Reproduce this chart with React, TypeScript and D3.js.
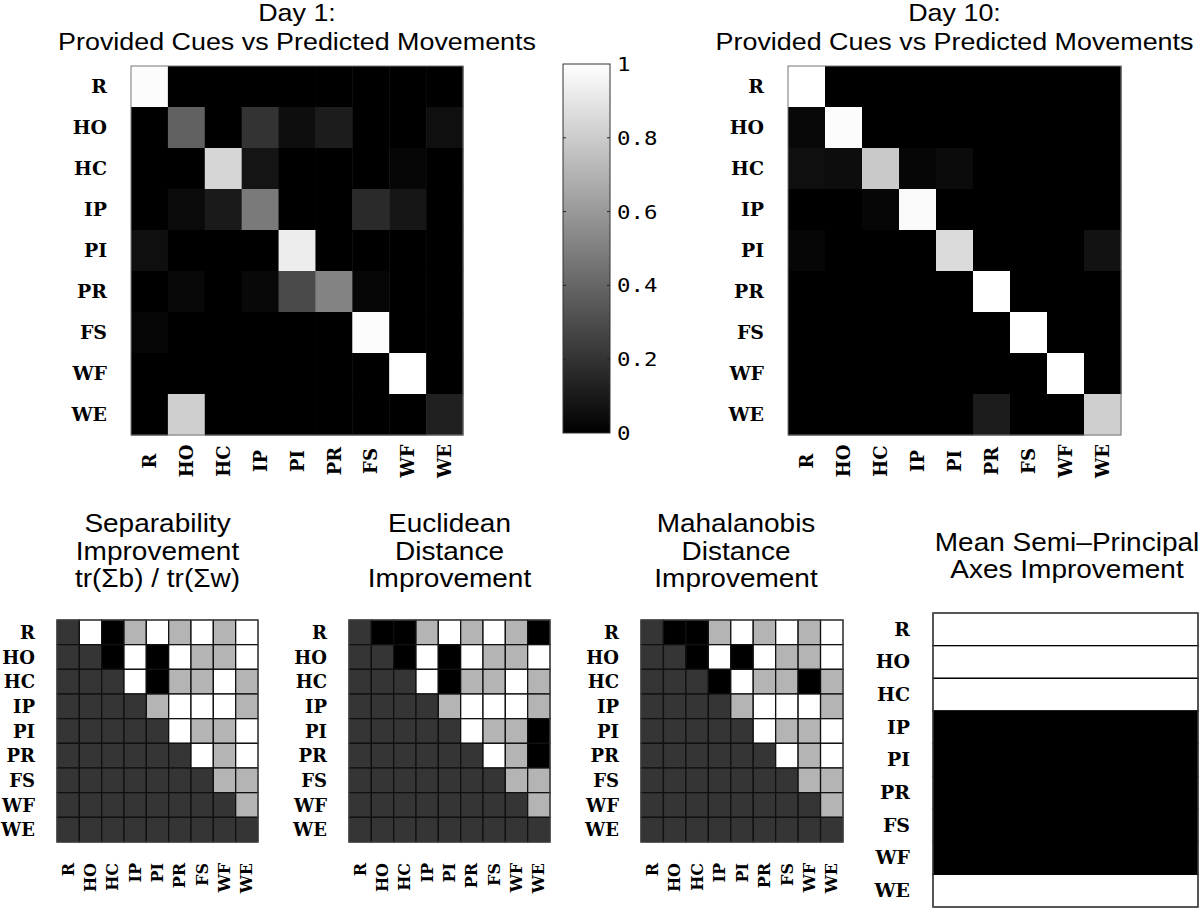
import React from "react";
import * as d3 from "d3";

const CUES = ["R", "HO", "HC", "IP", "PI", "PR", "FS", "WF", "WE"];

// Day 1 confusion matrix (rows: provided cue, cols: predicted movement)
const day1 = [
  [0.99, 0, 0, 0, 0, 0, 0, 0, 0],
  [0, 0.38, 0, 0.2, 0.055, 0.11, 0, 0, 0.06],
  [0, 0, 0.84, 0.08, 0, 0, 0, 0.025, 0],
  [0, 0.04, 0.1, 0.48, 0, 0, 0.165, 0.087, 0],
  [0.06, 0, 0, 0, 0.93, 0, 0, 0, 0],
  [0, 0.03, 0, 0.03, 0.29, 0.51, 0.025, 0, 0],
  [0.025, 0, 0, 0, 0, 0, 0.99, 0, 0],
  [0, 0, 0, 0, 0, 0, 0, 1.0, 0],
  [0, 0.81, 0, 0, 0, 0, 0, 0, 0.125],
];

// Day 10 confusion matrix
const day10 = [
  [1.0, 0, 0, 0, 0, 0, 0, 0, 0],
  [0.03, 0.99, 0, 0, 0, 0, 0, 0, 0],
  [0.06, 0.05, 0.79, 0.025, 0.045, 0, 0, 0, 0],
  [0, 0, 0.025, 0.98, 0, 0, 0, 0, 0],
  [0.025, 0, 0, 0, 0.86, 0, 0, 0, 0.07],
  [0, 0, 0, 0, 0, 1.0, 0, 0, 0],
  [0, 0, 0, 0, 0, 0, 1.0, 0, 0],
  [0, 0, 0, 0, 0, 0, 0, 1.0, 0],
  [0, 0, 0, 0, 0, 0.11, 0, 0, 0.81],
];

// Improvement matrices: 0 = n/a (lower triangle), 1 = worse, 2 = some, 3 = best
const separability = [
  [0, 3, 1, 2, 3, 2, 3, 2, 3],
  [0, 0, 1, 3, 1, 3, 2, 2, 3],
  [0, 0, 0, 3, 1, 2, 2, 3, 2],
  [0, 0, 0, 0, 2, 3, 3, 3, 2],
  [0, 0, 0, 0, 0, 3, 2, 2, 3],
  [0, 0, 0, 0, 0, 0, 3, 2, 3],
  [0, 0, 0, 0, 0, 0, 0, 2, 2],
  [0, 0, 0, 0, 0, 0, 0, 0, 2],
  [0, 0, 0, 0, 0, 0, 0, 0, 0],
];
const euclidean = [
  [0, 1, 1, 2, 3, 2, 3, 2, 1],
  [0, 0, 1, 3, 1, 3, 2, 2, 3],
  [0, 0, 0, 3, 1, 2, 2, 3, 2],
  [0, 0, 0, 0, 2, 3, 3, 3, 2],
  [0, 0, 0, 0, 0, 3, 2, 2, 1],
  [0, 0, 0, 0, 0, 0, 3, 2, 1],
  [0, 0, 0, 0, 0, 0, 0, 2, 2],
  [0, 0, 0, 0, 0, 0, 0, 0, 2],
  [0, 0, 0, 0, 0, 0, 0, 0, 0],
];
const mahalanobis = [
  [0, 1, 1, 2, 3, 2, 3, 2, 3],
  [0, 0, 1, 3, 1, 3, 2, 2, 3],
  [0, 0, 0, 1, 3, 2, 2, 1, 2],
  [0, 0, 0, 0, 2, 3, 3, 3, 2],
  [0, 0, 0, 0, 0, 3, 2, 2, 3],
  [0, 0, 0, 0, 0, 0, 3, 2, 3],
  [0, 0, 0, 0, 0, 0, 0, 2, 2],
  [0, 0, 0, 0, 0, 0, 0, 0, 2],
  [0, 0, 0, 0, 0, 0, 0, 0, 0],
];
// Mean semi-principal axes improvement per cue (1 = improved, 0 = not)
const semiPrincipal = [1, 1, 1, 0, 0, 0, 0, 0, 1];

const COLORBAR_TICKS = [0, 0.2, 0.4, 0.6, 0.8, 1];

const SX = 1.12;
const LABEL = "'DejaVu Serif', 'Liberation Serif', serif";
const SANS = "'Liberation Sans', Arial, Helvetica, sans-serif";

const gray = d3.scaleLinear<string>().domain([0, 1]).range(["#000000", "#ffffff"]);
const improveColor = d3
  .scaleOrdinal<number, string>()
  .domain([0, 1, 2, 3])
  .range(["#353535", "#000000", "#b4b4b4", "#ffffff"]);

function SText(props: any) {
  const { x, y, size, family, weight, anchor, rotate, baseline, children, sx } = props;
  const s = sx ?? SX;
  return (
    <text
      transform={`translate(${x},${y}) scale(${s},1)${rotate ? ` rotate(${rotate})` : ""}`}
      fontSize={size}
      fontFamily={family}
      fontWeight={weight || "normal"}
      textAnchor={anchor || "middle"}
      dominantBaseline={baseline || "alphabetic"}
      fill="#000"
    >
      {children}
    </text>
  );
}

function Confusion({ x0, x1, y0, y1, data, title }: any) {
  const xs = d3.scaleBand<string>().domain(CUES).range([x0, x1]);
  const ys = d3.scaleBand<string>().domain(CUES).range([y0, y1]);
  const cx = (x0 + x1) / 2;
  return (
    <g>
      {title.map((t: string, i: number) => (
        <SText key={i} x={cx} y={21 + i * 29} size={24} family={SANS}>
          {t}
        </SText>
      ))}
      {data.map((row: number[], i: number) =>
        row.map((v: number, j: number) => (
          <rect
            key={`${i}-${j}`}
            x={xs(CUES[j])}
            y={ys(CUES[i])}
            width={xs.bandwidth() + 0.5}
            height={ys.bandwidth() + 0.5}
            fill={gray(v)}
          />
        ))
      )}
      <rect x={x0} y={y0} width={x1 - x0} height={y1 - y0} fill="none" stroke="#777" strokeWidth={1} />
      {CUES.map((c) => (
        <SText key={"r" + c} x={x0 - 24} y={(ys(c) as number) + ys.bandwidth() / 2} size={18} sx={1.05} family={LABEL} weight="bold" anchor="end" baseline="central">
          {c}
        </SText>
      ))}
      {CUES.map((c) => (
        <SText key={"c" + c} x={(xs(c) as number) + xs.bandwidth() / 2} y={461} size={18} sx={1.05} family={LABEL} weight="bold" anchor="middle" baseline="central" rotate={-90}>
          {c}
        </SText>
      ))}
    </g>
  );
}

function Improve({ x0, x1, y0, y1, data, title, tx }: any) {
  const xs = d3.scaleBand<string>().domain(CUES).range([x0, x1]);
  const ys = d3.scaleBand<string>().domain(CUES).range([y0, y1]);
  const cx = tx ?? (x0 + x1) / 2;
  return (
    <g>
      {title.map((t: string, i: number) => (
        <SText key={i} x={cx} y={532 + i * 27.5} size={25} family={SANS}>
          {t}
        </SText>
      ))}
      {data.map((row: number[], i: number) =>
        row.map((v: number, j: number) => (
          <rect
            key={`${i}-${j}`}
            x={xs(CUES[j])}
            y={ys(CUES[i])}
            width={xs.bandwidth()}
            height={ys.bandwidth()}
            fill={improveColor(v)}
            stroke="#111"
            strokeWidth={1.3}
          />
        ))
      )}
      <rect x={x0} y={y0} width={x1 - x0} height={y1 - y0} fill="none" stroke="#555" strokeWidth={1} />
      {CUES.map((c) => (
        <SText key={"r" + c} x={x0 - 22} y={(ys(c) as number) + ys.bandwidth() / 2} size={18} sx={1.0} family={LABEL} weight="bold" anchor="end" baseline="central">
          {c}
        </SText>
      ))}
      {CUES.map((c) => (
        <SText key={"c" + c} x={(xs(c) as number) + xs.bandwidth() / 2} y={863} size={16} sx={1.05} family={LABEL} weight="bold" anchor="end" baseline="central" rotate={-90}>
          {c}
        </SText>
      ))}
    </g>
  );
}

function SemiPrincipal({ x0, x1, y0, y1 }: any) {
  const ys = d3.scaleBand<string>().domain(CUES).range([y0, y1]);
  const cx = 1067;
  const title = ["Mean Semi\u2013Principal", "Axes Improvement"];
  return (
    <g>
      {title.map((t: string, i: number) => (
        <SText key={i} x={cx} y={551 + i * 27} size={25} family={SANS}>
          {t}
        </SText>
      ))}
      {semiPrincipal.map((v, i) => (
        <rect
          key={i}
          x={x0}
          y={ys(CUES[i])}
          width={x1 - x0}
          height={ys.bandwidth()}
          fill={v ? "#ffffff" : "#000000"}
          stroke="#000"
          strokeWidth={1.3}
        />
      ))}
      <rect x={x0} y={y0} width={x1 - x0} height={y1 - y0} fill="none" stroke="#555" strokeWidth={1} />
      {CUES.map((c) => (
        <SText key={"r" + c} x={x0 - 23} y={(ys(c) as number) + ys.bandwidth() / 2} size={18} sx={1.05} family={LABEL} weight="bold" anchor="end" baseline="central">
          {c}
        </SText>
      ))}
    </g>
  );
}

function Colorbar({ x0, x1, y0, y1 }: any) {
  const y = d3.scaleLinear().domain([0, 1]).range([y1, y0]);
  return (
    <g>
      <defs>
        <linearGradient id="cbgrad" x1="0" y1="1" x2="0" y2="0">
          <stop offset="0" stopColor="#000" />
          <stop offset="1" stopColor="#fff" />
        </linearGradient>
      </defs>
      <rect x={x0} y={y0} width={x1 - x0} height={y1 - y0} fill="url(#cbgrad)" stroke="#333" strokeWidth={1} />
      {COLORBAR_TICKS.filter((t) => t > 0 && t < 1).map((t) => (
        <g key={t}>
          <line x1={x0} x2={x0 + 3} y1={y(t)} y2={y(t)} stroke="#222" />
          <line x1={x1 - 3} x2={x1} y1={y(t)} y2={y(t)} stroke="#222" />
        </g>
      ))}
      {COLORBAR_TICKS.map((t) => (
        <SText key={t} x={x1 + 7} y={y(t)} size={20} family="'DejaVu Sans Mono', monospace" anchor="start" baseline="central">
          {String(t)}
        </SText>
      ))}
    </g>
  );
}

export default function App() {
  return (
    <svg
      width={1200}
      height={908}
      viewBox="0 0 1200 908"
      style={{ position: "absolute", left: 0, top: 0, background: "#fff" }}
    >
      <rect width={1200} height={908} fill="#fff" />
      <Confusion x0={131} x1={463} y0={66} y1={435} data={day1} title={["Day 1:", "Provided Cues vs Predicted Movements"]} />
      <Confusion x0={788} x1={1121} y0={66} y1={435} data={day10} title={["Day 10:", "Provided Cues vs Predicted Movements"]} />
      <Colorbar x0={563} x1={610} y0={64} y1={433} />
      <Improve x0={57} x1={258} y0={620} y1={842} data={separability} title={["Separability", "Improvement", "tr(\u03A3b) / tr(\u03A3w)"]} />
      <Improve x0={349} x1={550} y0={620} y1={842} data={euclidean} title={["Euclidean", "Distance", "Improvement"]} />
      <Improve x0={641} x1={843} y0={620} y1={842} data={mahalanobis} title={["Mahalanobis", "Distance", "Improvement"]} tx={736} />
      <SemiPrincipal x0={933} x1={1198} y0={613} y1={907} />
    </svg>
  );
}
